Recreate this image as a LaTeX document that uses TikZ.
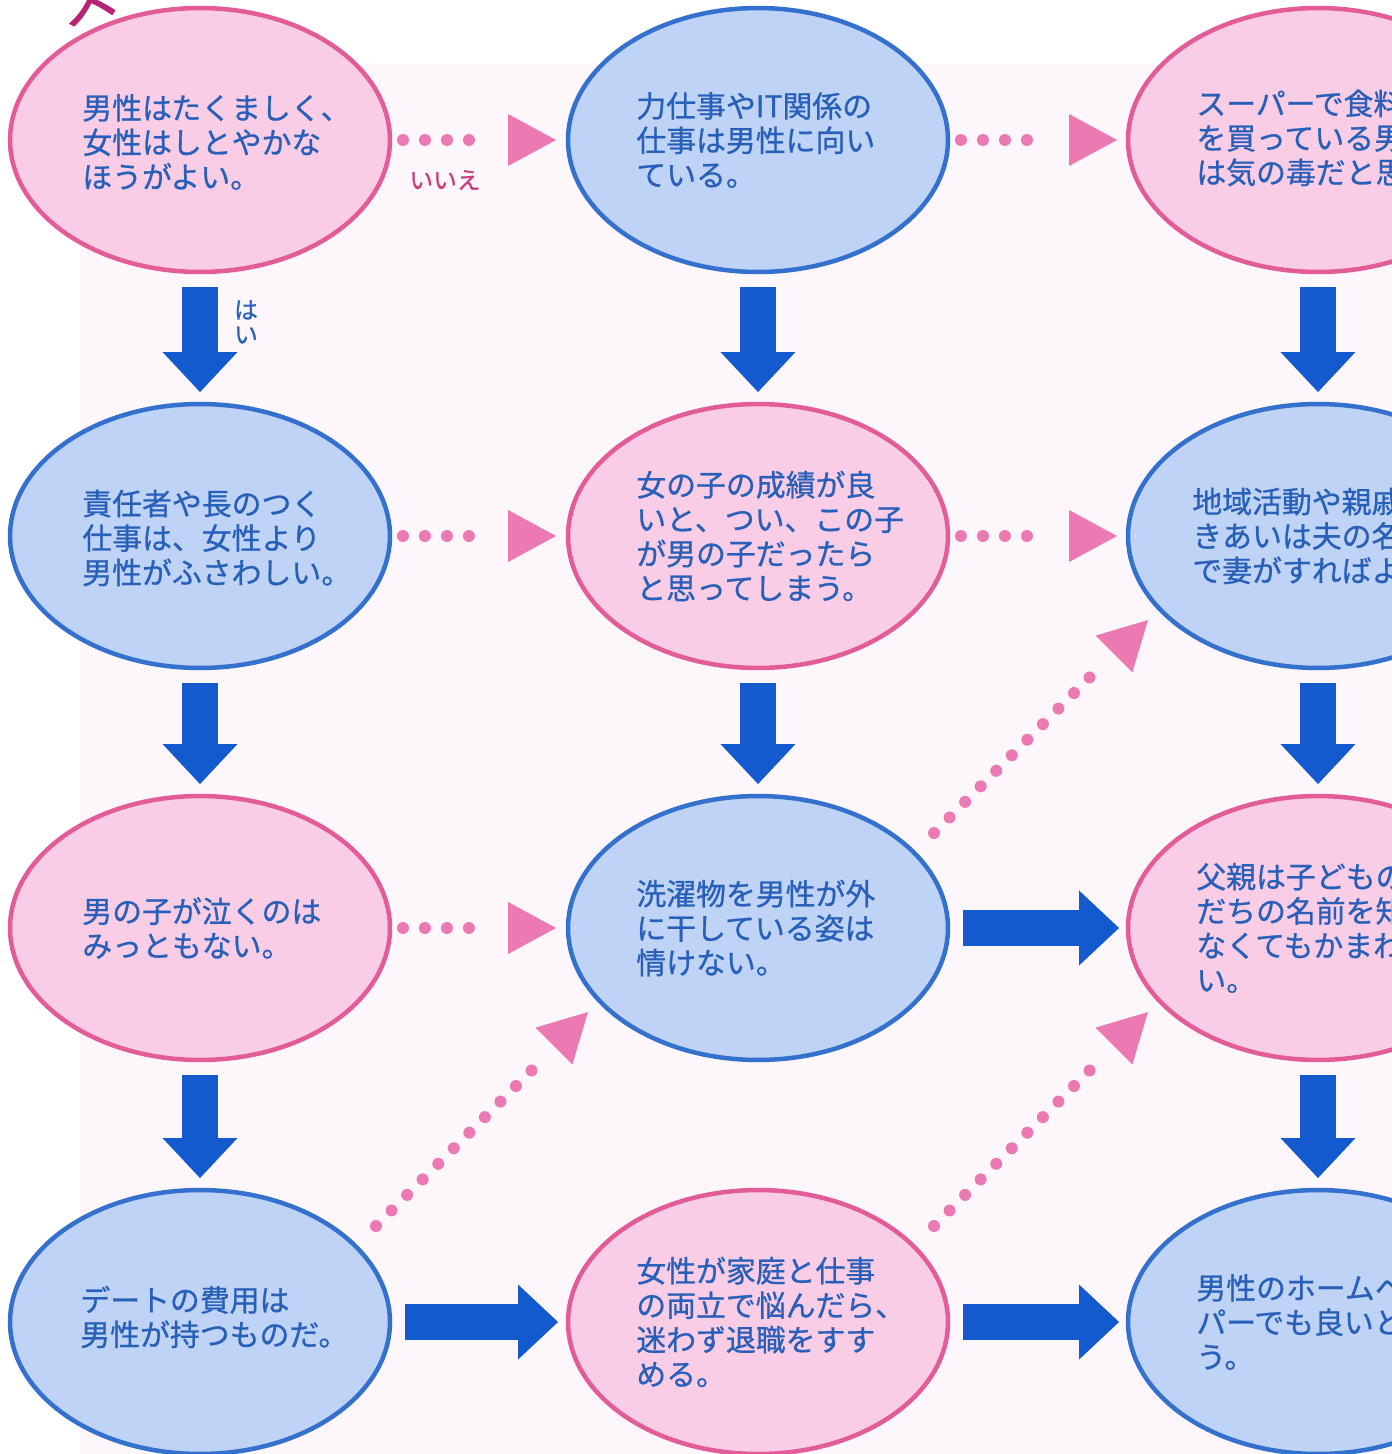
\documentclass[tikz,border=0pt]{standalone}
\usepackage{fontspec}
\setmainfont{Noto Sans CJK JP}[FakeBold=0.8]
\usetikzlibrary{shapes.geometric,arrows.meta,calc}
\definecolor{pinkfill}{RGB}{249,205,229}
\definecolor{pinkline}{RGB}{226,92,152}
\definecolor{bluefill}{RGB}{190,211,245}
\definecolor{blueline}{RGB}{52,112,205}
\definecolor{arrblue}{RGB}{18,90,205}
\definecolor{dotpink}{RGB}{236,122,178}
\definecolor{txtblue}{RGB}{40,95,185}
\definecolor{labmag}{RGB}{200,60,125}
\definecolor{titlemag}{RGB}{185,35,115}
\definecolor{bgpink}{RGB}{253,246,251}
\begin{document}
\begin{tikzpicture}[x=0.02cm,y=-0.02cm,
  ell/.style={ellipse, minimum width=7.6cm, minimum height=5.28cm, inner sep=0pt, outer sep=0pt, line width=0.09cm},
  pinkell/.style={ell, draw=pinkline, fill=pinkfill},
  blueell/.style={ell, draw=blueline, fill=bluefill},
  txt/.style={anchor=west, align=left, inner sep=0pt, text=txtblue, font=\fontsize{17}{19.6}\selectfont},
  blockarr/.style={draw=arrblue, line width=0.72cm, -{Triangle[width=1.5cm,length=0.8cm,line width=0pt]}},
  dotl/.style={draw=dotpink, line width=0.24cm, line cap=round, dash pattern=on 0pt off 0.44cm},
  tri/.style={fill=dotpink}
]
\useasboundingbox (0,0) rectangle (1392,1454);
\clip (0,0) rectangle (1392,1454);
\fill[bgpink] (80,65) rectangle (1392,1454);

% partial heading
\node[font=\fontsize{34}{34}\selectfont, text=titlemag, rotate=17, anchor=base west, inner sep=0pt] (title) at (64,28) {ス};

% ellipses
\node[pinkell] (A1) at (200,140) {};
\node[blueell] (A2) at (200,536) {};
\node[pinkell] (A3) at (200,928) {};
\node[blueell] (A4) at (200,1322) {};
\node[blueell] (B1) at (758,140) {};
\node[pinkell] (B2) at (758,536) {};
\node[blueell] (B3) at (758,928) {};
\node[pinkell] (B4) at (758,1322) {};
\node[pinkell] (C1) at (1318,140) {};
\node[blueell] (C2) at (1318,536) {};
\node[pinkell] (C3) at (1318,928) {};
\node[blueell] (C4) at (1318,1322) {};

% texts
\node[txt] (tA1) at ($(A1)+(-118,2)$) {男性はたくましく、\\女性はしとやかな\\ほうがよい。};
\node[txt] (tA2) at ($(A2)+(-118,2)$) {責任者や長のつく\\仕事は、女性より\\男性がふさわしい。};
\node[txt] (tA3) at ($(A3)+(-118,0)$) {男の子が泣くのは\\みっともない。};
\node[txt] (tA4) at ($(A4)+(-120,-5)$) {デートの費用は\\男性が持つものだ。};
\node[txt] (tB1) at ($(B1)+(-122,0)$) {力仕事やIT関係の\\仕事は男性に向い\\ている。};
\node[txt] (tB2) at ($(B2)+(-122,0)$) {女の子の成績が良\\いと、つい、この子\\が男の子だったら\\と思ってしまう。};
\node[txt] (tB3) at ($(B3)+(-122,0)$) {洗濯物を男性が外\\に干している姿は\\情けない。};
\node[txt] (tB4) at ($(B4)+(-122,0)$) {女性が家庭と仕事\\の両立で悩んだら、\\迷わず退職をすす\\める。};
\node[txt] (tC1) at ($(C1)+(-122,-2)$) {スーパーで食料\\を買っている男\\は気の毒だと思};
\node[txt] (tC2) at ($(C2)+(-126,0)$) {地域活動や親戚\\きあいは夫の名\\で妻がすればよ};
\node[txt] (tC3) at ($(C3)+(-122,0)$) {父親は子どもの\\だちの名前を知\\なくてもかまわ\\い。};
\node[txt] (tC4) at ($(C4)+(-122,0)$) {男性のホームヘ\\パーでも良いと\\う。};

% labels
\node[font=\fontsize{13.5}{14}\selectfont, text=labmag, inner sep=0pt] (no) at (445,180) {いいえ};
\node[font=\fontsize{13.5}{14}\selectfont, text=txtblue, align=center, inner sep=0pt] (yes) at (246,322) {は\\い};

% block arrows (vertical)
\draw[blockarr, shorten <=0.3cm, shorten >=0.24cm] (A1.south) -- (A2.north);
\draw[blockarr, shorten <=0.3cm, shorten >=0.24cm] (A2.south) -- (A3.north);
\draw[blockarr, shorten <=0.3cm, shorten >=0.24cm] (A3.south) -- (A4.north);
\draw[blockarr, shorten <=0.3cm, shorten >=0.24cm] (B1.south) -- (B2.north);
\draw[blockarr, shorten <=0.3cm, shorten >=0.24cm] (B2.south) -- (B3.north);
\draw[blockarr, shorten <=0.3cm, shorten >=0.24cm] (C1.south) -- (C2.north);
\draw[blockarr, shorten <=0.3cm, shorten >=0.24cm] (C2.south) -- (C3.north);
\draw[blockarr, shorten <=0.3cm, shorten >=0.24cm] (C3.south) -- (C4.north);
% block arrows (horizontal)
\draw[blockarr, shorten <=0.3cm, shorten >=0.18cm] (B3.east) -- (C3.west);
\draw[blockarr, shorten <=0.3cm, shorten >=0.2cm] (A4.east) -- (B4.west);
\draw[blockarr, shorten <=0.3cm, shorten >=0.18cm] (B4.east) -- (C4.west);

% dotted arrows (horizontal)
\draw[dotl] ($(A1.east)+(13,0)$) -- ++(67,0);
\fill[tri] ($(B1.west)+(-12,0)$) -- ++(-48,-26) -- ++(0,52) -- cycle;
\draw[dotl] ($(B1.east)+(13,0)$) -- ++(67,0);
\fill[tri] ($(C1.west)+(-11,0)$) -- ++(-48,-26) -- ++(0,52) -- cycle;
\draw[dotl] ($(A2.east)+(13,0)$) -- ++(67,0);
\fill[tri] ($(B2.west)+(-12,0)$) -- ++(-48,-26) -- ++(0,52) -- cycle;
\draw[dotl] ($(B2.east)+(13,0)$) -- ++(67,0);
\fill[tri] ($(C2.west)+(-11,0)$) -- ++(-48,-26) -- ++(0,52) -- cycle;
\draw[dotl] ($(A3.east)+(13,0)$) -- ++(67,0);
\fill[tri] ($(B3.west)+(-12,0)$) -- ++(-48,-26) -- ++(0,52) -- cycle;

% dotted arrows (diagonal)
\draw[dotl] ($(B3)+(176,-95)$) -- ++(156,-156);
\fill[tri] ($(C2)+(-170,84)$) -- ++(-15.6,52.4) -- ++(-36.8,-36.8) -- cycle;
\draw[dotl] ($(A4)+(176,-96)$) -- ++(156,-156);
\fill[tri] ($(B3)+(-170,84)$) -- ++(-15.6,52.4) -- ++(-36.8,-36.8) -- cycle;
\draw[dotl] ($(B4)+(176,-96)$) -- ++(156,-156);
\fill[tri] ($(C3)+(-170,84)$) -- ++(-15.6,52.4) -- ++(-36.8,-36.8) -- cycle;
\end{tikzpicture}
\end{document}
